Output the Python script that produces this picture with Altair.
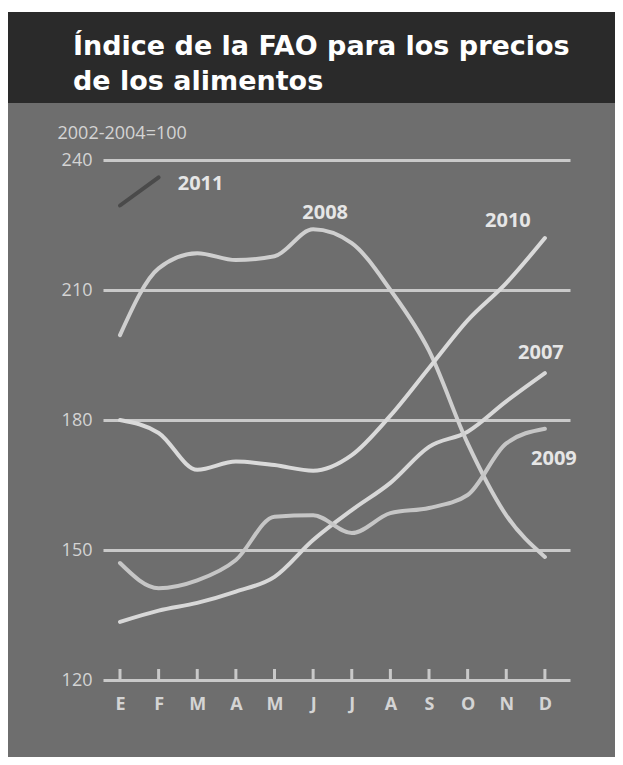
import altair as alt
import pandas as pd

months = ["E", "F", "M", "A", "M", "J", "J", "A", "S", "O", "N", "D"]
years = ["2007", "2008", "2009", "2010", "2011"]
v2007 = [133.4, 136.0, 137.8, 140.4, 143.8, 152.3, 159.2, 165.5, 173.8, 177.3, 184.3, 190.8]
v2008 = [199.6, 215.0, 218.5, 216.9, 217.8, 224.0, 220.8, 210.0, 196.0, 174.6, 158.0, 148.4]
v2009 = [147.0, 141.2, 143.0, 147.7, 157.7, 158.0, 153.9, 158.5, 159.7, 162.7, 174.6, 178.0]
v2010 = [180.0, 177.0, 168.5, 170.4, 169.6, 168.3, 171.9, 181.0, 192.0, 203.0, 211.6, 222.0]
v2011 = [229.5, 236.0]
y_ticks = [120, 150, 180, 210, 240]
title_lines = ["Índice de la FAO para los precios", "de los alimentos"]
y_title = "2002-2004=100"

series = [v2007, v2008, v2009, v2010, v2011]
rows = []
for yr, vals in zip(years, series):
    for i, v in enumerate(vals):
        rows.append({"year": yr, "m": i, "v": v})
df = pd.DataFrame(rows)

line_colors = ["#d8d8d8", "#cfcfcf", "#c6c6c6", "#dadada", "#4a4a4a"]
label_col = "#d4d4d4"
grid_col = "#c9c9c9"
FONT = "Open Sans"

xscale = alt.Scale(domain=[-0.44, 11.65], nice=False, zero=False)
yscale = alt.Scale(domain=[120, 240], nice=False, zero=False)
label_expr = "[" + ",".join(f"'{m}'" for m in months) + "][datum.value]"

one = pd.DataFrame({"a": [0]})

band = alt.Chart(one).mark_rect(color="#2a2a2a").encode(
    x=alt.value(-95), x2=alt.value(512), y=alt.value(-148), y2=alt.value(-57)
)
strip = alt.Chart(one).mark_rect(color="white").encode(
    x=alt.value(-95), x2=alt.value(512), y=alt.value(-152), y2=alt.value(-148)
)

lines = alt.Chart(df).mark_line(strokeWidth=4, interpolate="monotone", strokeCap="round").encode(
    x=alt.X("m:Q", scale=xscale,
            axis=alt.Axis(values=list(range(12)), labelExpr=label_expr, title=None,
                          domain=False, ticks=False, grid=False, labelPadding=15,
                          labelFontSize=18, labelFontWeight="bold", labelColor=label_col,
                          labelFont=FONT)),
    y=alt.Y("v:Q", scale=yscale,
            axis=alt.Axis(values=y_ticks, title=y_title, titleAngle=0, titleAlign="left",
                          titleBaseline="middle", titleX=-46, titleY=-27,
                          titleFontWeight="normal", titleFontSize=18, titleColor=label_col,
                          titleFont=FONT, grid=True, gridColor=grid_col, gridWidth=3,
                          domain=False, ticks=False, labelPadding=11, labelFontSize=18,
                          labelColor=label_col, labelFont=FONT)),
    color=alt.Color("year:N", scale=alt.Scale(domain=years, range=line_colors), legend=None),
)

ticks = alt.Chart(pd.DataFrame({"m": list(range(12))})).mark_rule(
    color=grid_col, strokeWidth=3
).encode(x=alt.X("m:Q", scale=xscale), y=alt.value(509), y2=alt.value(520))

title = alt.Chart(one).mark_text(
    text=title_lines, align="left", baseline="alphabetic", fontSize=27,
    fontWeight="bold", font="DejaVu Sans", color="white", lineHeight=35
).encode(x=alt.value(-30), y=alt.value(-105))

# year labels anchored to a point of their series, with offsets
anchors = [("2011", 1, 42, 7), ("2008", 5, 12, -16), ("2010", 11, -37, -17),
           ("2007", 11, -4, -20), ("2009", 11, 9, 30)]
label_layers = []
for yr, m, dx, dy in anchors:
    sub = df[(df.year == yr) & (df.m == m)]
    label_layers.append(
        alt.Chart(sub).mark_text(dx=dx, dy=dy, fontSize=20, fontWeight="bold",
                                 font=FONT, color="#e6e6e6").encode(
            x=alt.X("m:Q", scale=xscale), y=alt.Y("v:Q", scale=yscale),
            text=alt.Text("year:N"))
    )

chart = alt.layer(strip, band, lines, ticks, title, *label_layers).properties(
    width=467, height=520,
    autosize=alt.AutoSizeParams(type="none"),
    padding={"left": 95, "top": 152, "right": 45, "bottom": 77},
    background="#6e6e6e",
).configure_view(stroke=None)

chart.save("out.html", embed_options={"renderer": "svg", "actions": False})
